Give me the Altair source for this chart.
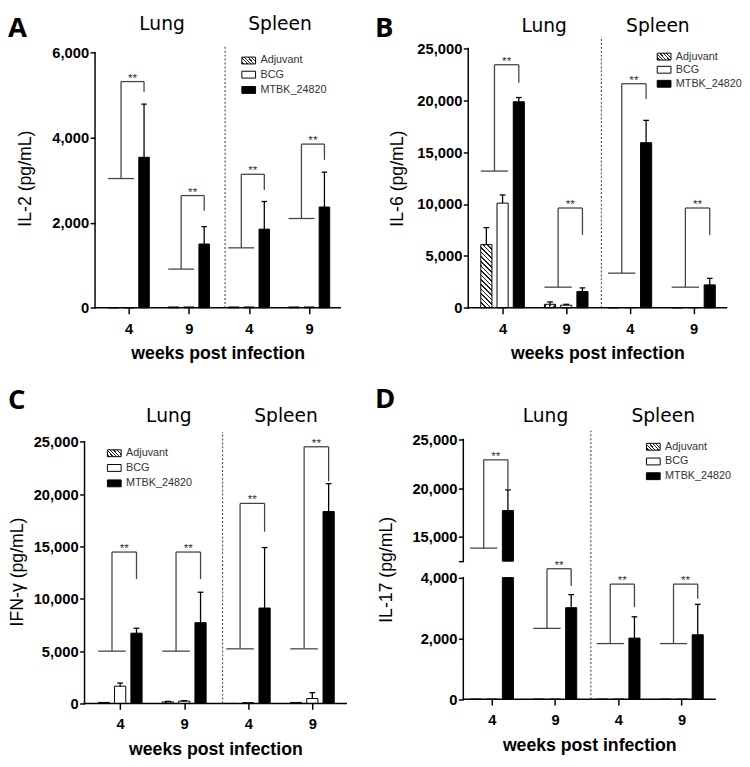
import altair as alt
import pandas as pd

GROUPS = ["Lung 4", "Lung 9", "Spleen 4", "Spleen 9"]
TICK_LABELS = ["4", "9", "4", "9"]
SERIES = ["Adjuvant", "BCG", "MTBK_24820"]
ORGANS = ["Lung", "Spleen"]
SIG = "**"

# Panel A: IL-2
A_ADJ = [0, 20, 20, 20]
A_ADJ_SD = [0, 0, 0, 0]
A_BCG = [0, 20, 20, 20]
A_BCG_SD = [0, 0, 0, 0]
A_MTBK = [3540, 1500, 1850, 2370]
A_MTBK_SD = [1250, 410, 650, 820]
A_BR_BASE = [3040, 910, 1410, 2100]
A_BR_TOP = [5320, 2640, 3140, 3850]
A_BR_END = [5080, 2280, 2770, 3480]

# Panel B: IL-6
B_ADJ = [6090, 340, 0, 0]
B_ADJ_SD = [1640, 230, 0, 0]
B_BCG = [10090, 250, 30, 30]
B_BCG_SD = [790, 90, 0, 0]
B_MTBK = [19860, 1570, 15920, 2210]
B_MTBK_SD = [410, 350, 2150, 630]
B_BR_BASE = [13180, 1990, 3340, 1990]
B_BR_TOP = [23430, 9620, 21600, 9620]
B_BR_END = [21690, 7030, 20120, 7030]

# Panel C: IFN-gamma
C_ADJ = [100, 150, 0, 100]
C_ADJ_SD = [0, 50, 0, 0]
C_BCG = [1650, 220, 80, 470]
C_BCG_SD = [300, 50, 0, 560]
C_MTBK = [6720, 7720, 9120, 18340]
C_MTBK_SD = [470, 2910, 5780, 2660]
C_BR_BASE = [5000, 5000, 5220, 5220]
C_BR_TOP = [14470, 14470, 19120, 24530]
C_BR_END = [11880, 11880, 16410, 21250]

# Panel D: IL-17 (broken axis 4,000 -> 12,500)
D_ADJ = [0, 0, 0, 0]
D_ADJ_SD = [0, 0, 0, 0]
D_BCG = [0, 0, 0, 0]
D_BCG_SD = [0, 0, 0, 0]
D_MTBK = [17700, 3010, 2010, 2120]
D_MTBK_SD = [2120, 430, 700, 1000]
D_BR_BASE = [13840, 2330, 1830, 1830]
D_BR_TOP = [22910, 8580, 3785, 3785]
D_BR_END = [19890, 3720, 3030, 3300]
D_BREAK = [4000, 12500]

X_OFF = 0.255
BAR_W = 0.175
CAP = 0.045
FONT = "Liberation Sans"
SERIES_FILL = {"BCG": "white", "MTBK_24820": "black"}

PANELS = [
    dict(letter="A", ytitle="IL-2 (pg/mL)",
         vals=[A_ADJ, A_BCG, A_MTBK], sds=[A_ADJ_SD, A_BCG_SD, A_MTBK_SD],
         br=[A_BR_BASE, A_BR_TOP, A_BR_END], brk=None,
         yticks=[0, 2000, 4000, 6000], ydom=[0, 6099], yrange=None, ytop=6000,
         width=250, ext=10.7, height=264.3, xdom=[-0.56, 3.52], div_x=1.603, div_top=6175,
         organ_x=[0.554, 2.517], organ_dy=-18.3, legend=(149.6, [12.3, 26.7, 42.3]),
         letter_pos=(-78, -33.5), ytitle_x=-71),
    dict(letter="B", ytitle="IL-6 (pg/mL)",
         vals=[B_ADJ, B_BCG, B_MTBK], sds=[B_ADJ_SD, B_BCG_SD, B_MTBK_SD],
         br=[B_BR_BASE, B_BR_TOP, B_BR_END], brk=None,
         yticks=[0, 5000, 10000, 15000, 20000, 25000], ydom=[0, 25000], yrange=None, ytop=25000,
         width=263.3, ext=0, height=264.3, xdom=[-0.54, 3.52], div_x=1.553, div_top=26135,
         organ_x=[0.653, 2.44], organ_dy=-16.7, legend=(192.6, [8.3, 21.7, 36.0]),
         letter_pos=(-95, -33.5), ytitle_x=-71.7),
    dict(letter="C", ytitle="IFN-γ (pg/mL)",
         vals=[C_ADJ, C_BCG, C_MTBK], sds=[C_ADJ_SD, C_BCG_SD, C_MTBK_SD],
         br=[C_BR_BASE, C_BR_TOP, C_BR_END], brk=None,
         yticks=[0, 5000, 10000, 15000, 20000, 25000], ydom=[0, 25225], yrange=None, ytop=25000,
         width=266.7, ext=0, height=269, xdom=[-0.556, 3.53], div_x=1.599, div_top=25938,
         organ_x=[0.76, 2.59], organ_dy=-17.6, legend=(23.3, [14.0, 29.0, 44.7]),
         letter_pos=(-78, -53), ytitle_x=-68.5),
    dict(letter="D", ytitle="IL-17 (pg/mL)",
         vals=[D_ADJ, D_BCG, D_MTBK], sds=[D_ADJ_SD, D_BCG_SD, D_MTBK_SD],
         br=[D_BR_BASE, D_BR_TOP, D_BR_END], brk=D_BREAK,
         yticks=[0, 2000, 4000, 12500, 15000, 20000, 25000],
         ydom=[0, 4000, 12500, 25000], yrange=[264.7, 140.7, 124, 0], ytop=25000,
         width=256.6, ext=0, height=264.7, xdom=[-0.45, 3.53], div_x=1.566, div_top=25937,
         organ_x=[0.849, 2.71], organ_dy=-17.6, legend=(186.6, [7.4, 22.4, 37.4]),
         letter_pos=(-90, -54.6), ytitle_x=-77.7),
]


def hatch(n, x1, y1, x2, y2):
    stops = []
    for k in range(n):
        a, b, c = k / n, (k + 0.35) / n, (k + 1) / n
        stops += [alt.GradientStop(color="#222222", offset=a),
                  alt.GradientStop(color="#222222", offset=b),
                  alt.GradientStop(color="white", offset=b),
                  alt.GradientStop(color="white", offset=c)]
    return alt.LinearGradient(gradient="linear", stops=stops, x1=x1, y1=y1, x2=x2, y2=y2)


BAR_HATCH = hatch(16, 0, 1, 0.2, -0.13)
SWATCH_HATCH = hatch(5, 0, 0.73, 1, 0.27)


def panel(p):
    bars, errs, caps, segs, stars = [], [], [], [], []
    for si, name in enumerate(SERIES):
        for g in range(len(GROUPS)):
            v = p["vals"][si][g]
            sd = p["sds"][si][g]
            xc = g + (si - 1) * X_OFF
            pieces = [(0, v)]
            if p["brk"] and v > p["brk"][1]:
                pieces = [(0, p["brk"][0]), (p["brk"][1], v)]
            for lo, hi in pieces:
                bars.append(dict(series=name, x0=xc - BAR_W / 2, x1=xc + BAR_W / 2, lo=lo, hi=hi))
            if sd > 0:
                errs.append(dict(xc=xc, y=v, y2=v + sd))
                caps.append(dict(x=xc - CAP, x2=xc + CAP, y=v + sd))
    base, top, end = p["br"]
    for g in range(len(GROUPS)):
        xl = g - X_OFF / 2
        xr = g + X_OFF
        segs += [
            dict(x=g - X_OFF - BAR_W / 2, x2=g + BAR_W / 2, y=base[g], y2=base[g]),
            dict(x=xl, x2=xl, y=base[g], y2=top[g]),
            dict(x=xl, x2=xr, y=top[g], y2=top[g]),
            dict(x=xr, x2=xr, y=end[g], y2=top[g]),
        ]
        stars.append(dict(x=(xl + xr) / 2, y=top[g], t=SIG))
    bars = pd.DataFrame(bars)
    errs = pd.DataFrame(errs)
    caps = pd.DataFrame(caps)
    segs = pd.DataFrame(segs)
    stars = pd.DataFrame(stars)

    x_lo, x_hi = p["xdom"]
    px_per_unit = p["width"] / (x_hi - x_lo)
    x_lo_ext = x_lo - p["ext"] / px_per_unit
    xs = alt.Scale(domain=[x_lo_ext, x_hi], nice=False, zero=False)
    if p["yrange"]:
        ys = alt.Scale(domain=p["ydom"], range=p["yrange"], nice=False, zero=False)
    else:
        ys = alt.Scale(domain=p["ydom"], nice=False, zero=False)

    label_expr = "[" + ",".join("'%s'" % t for t in TICK_LABELS) + "][datum.value]"
    xa = alt.Axis(values=list(range(len(GROUPS))), labelExpr=label_expr, domain=False,
                  title="weeks post infection", tickSize=6, labelPadding=8,
                  titlePadding=9, labelFlush=False, labelOverlap=False,
                  titleX=(p["ext"] + p["width"] / 2))
    ylab = "format(datum.value, ',')"
    if p["brk"]:
        ylab = "datum.value == %d ? '' : format(datum.value, ',')" % p["brk"][1]
    ya = alt.Axis(values=p["yticks"], labelExpr=ylab, domain=False, tickSize=5,
                  labelPadding=1.5, labelFlush=False, labelOverlap=False, offset=-p["ext"],
                  title=p["ytitle"], titleX=p["ytitle_x"], titleY=p["height"] / 2,
                  titleAngle=270, titleAlign="center", titleBaseline="middle",
                  titleFontWeight="normal", titleFontSize=18)

    def X(f):
        return alt.X(f, scale=xs, axis=xa)

    def Y(f):
        return alt.Y(f, scale=ys, axis=ya)

    base_bars = alt.Chart(bars).transform_filter(
        alt.datum.series != SERIES[0]
    ).mark_bar(stroke="black", strokeWidth=1).encode(
        x=X("x0:Q"), x2="x1:Q", y=Y("lo:Q"), y2="hi:Q",
        fill=alt.Fill("series:N", scale=alt.Scale(domain=list(SERIES_FILL),
                                                  range=list(SERIES_FILL.values())),
                      legend=None),
    )
    adj_bars = alt.Chart(bars).transform_filter(
        alt.datum.series == SERIES[0]
    ).mark_bar(stroke="black", strokeWidth=1, fill=BAR_HATCH).encode(
        x=X("x0:Q"), x2="x1:Q", y=Y("lo:Q"), y2="hi:Q",
    )
    err_l = alt.Chart(errs).mark_rule(color="black", strokeWidth=1.3).encode(
        x=X("xc:Q"), y=Y("y:Q"), y2="y2:Q",
    )
    cap_l = alt.Chart(caps).mark_rule(color="black", strokeWidth=1.3).encode(
        x=X("x:Q"), x2="x2:Q", y=Y("y:Q"),
    )
    br_l = alt.Chart(segs).mark_rule(color="#444444", strokeWidth=1.3).encode(
        x=X("x:Q"), x2="x2:Q", y=Y("y:Q"), y2="y2:Q",
    )
    star_l = alt.Chart(stars).mark_text(font=FONT, fontSize=12, color="#333333",
                                        baseline="alphabetic", dy=0).encode(
        x=X("x:Q"), y=Y("y:Q"), text="t:N",
    )
    div_l = alt.Chart(pd.DataFrame([dict(x=p["div_x"], y=0, y2=p["div_top"])])).mark_rule(
        color="#555555", strokeWidth=1.2, strokeDash=[2, 2]).encode(
        x=X("x:Q"), y=Y("y:Q"), y2="y2:Q",
    )
    if p["brk"]:
        ax_rows = [dict(x=x_lo, x2=x_lo, y=0, y2=p["brk"][0]),
                   dict(x=x_lo, x2=x_lo, y=p["brk"][1], y2=p["ytop"])]
    else:
        ax_rows = [dict(x=x_lo, x2=x_lo, y=0, y2=p["ytop"])]
    ax_rows.append(dict(x=x_lo, x2=x_hi, y=0, y2=0))
    axis_lines = alt.Chart(pd.DataFrame(ax_rows)).mark_rule(
        color="black", strokeWidth=1.5, strokeCap="square").encode(
        x=X("x:Q"), x2="x2:Q", y=Y("y:Q"), y2="y2:Q",
    )
    organ_l = alt.Chart(pd.DataFrame(dict(x=p["organ_x"], t=ORGANS))).mark_text(
        font="DejaVu Sans", fontSize=19, color="black", baseline="alphabetic").encode(
        x=X("x:Q"), y=alt.value(p["organ_dy"]), text="t:N",
    )
    lx_, ly_ = p["letter_pos"]
    letter_l = alt.Chart(pd.DataFrame(dict(t=[p["letter"]]))).mark_text(
        font="Open Sans", fontSize=28, fontWeight="bold", color="black",
        align="left", baseline="top").encode(
        x=alt.value(lx_), y=alt.value(ly_), text="t:N")

    # key (legend) drawn as swatches + labels
    gx, rows = p["legend"]
    gx += p["ext"]
    key_layers = []
    for i, name in enumerate(SERIES):
        cy = rows[i]
        sw_fill = SWATCH_HATCH if i == 0 else SERIES_FILL[name]
        key_df = pd.DataFrame(dict(t=[name]))
        key_layers.append(alt.Chart(key_df).mark_rect(
            fill=sw_fill, stroke="black", strokeWidth=1).encode(
            x=alt.value(gx), x2=alt.value(gx + 14),
            y=alt.value(cy - 3.5), y2=alt.value(cy + 3.5)))
        key_layers.append(alt.Chart(key_df).mark_text(
            font=FONT, fontSize=11, color="#333333", align="left", baseline="middle").encode(
            x=alt.value(gx + 19), y=alt.value(cy), text="t:N"))

    layers = [base_bars, adj_bars, err_l, cap_l, br_l, star_l, div_l, axis_lines,
              organ_l, letter_l] + key_layers
    return alt.layer(*layers).properties(width=p["width"] + p["ext"], height=p["height"])


charts = [panel(p) for p in PANELS]
top = alt.hconcat(charts[0], charts[1], spacing=34).resolve_scale(fill="independent")
bottom = alt.hconcat(charts[2], charts[3], spacing=28).resolve_scale(fill="independent")
chart = alt.vconcat(top, bottom, spacing=22.5).resolve_scale(
    fill="independent").properties(padding=0).configure_view(
    stroke=None).configure_axis(
    grid=False, labelFont=FONT, labelFontSize=15, labelFontWeight="bold", labelColor="black",
    tickColor="black", tickWidth=1.5, domainColor="black", domainWidth=1.5,
    titleFont=FONT, titleFontSize=18, titleFontWeight="bold", titleColor="black")

chart.save("out.html", embed_options={"renderer": "svg", "actions": False})
